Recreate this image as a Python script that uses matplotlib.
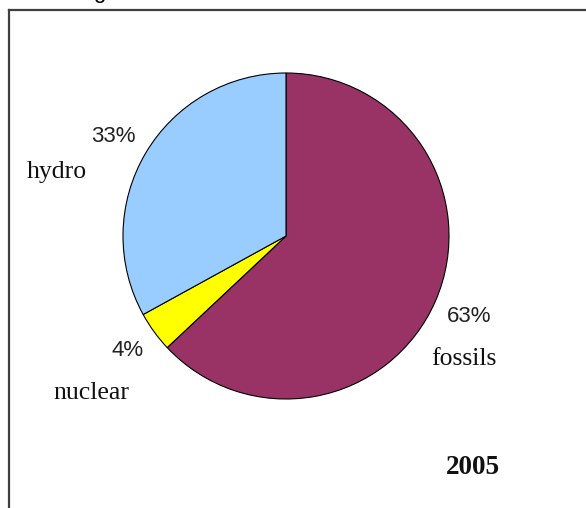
import matplotlib
matplotlib.use("Agg")
import matplotlib.pyplot as plt
from matplotlib.lines import Line2D

# data
sources = ["fossils", "nuclear", "hydro"]
shares = [63, 4, 33]
colors = ["#993366", "#FFFF00", "#99CCFF"]
year = "2005"

W, H = 586, 508
fig = plt.figure(figsize=(W / 100, H / 100), dpi=100)
fig.patch.set_facecolor("white")

# pie centred at (286, 236) px with radius 163 px
cx, cy, r = 286, 236, 163
ax = fig.add_axes([(cx - r) / W, (H - cy - r) / H, 2 * r / W, 2 * r / H])
ax.pie(shares, colors=colors, startangle=90, counterclock=False,
       wedgeprops=dict(edgecolor="black", linewidth=0.8))
ax.set_xlim(-1, 1)
ax.set_ylim(-1, 1)
ax.set_aspect("equal")
ax.axis("off")

def px(x, y):
    return x / W, 1 - y / H

# percentage + name labels (pixel centres)
pct_pos = {"fossils": (469, 316), "nuclear": (128, 351), "hydro": (113, 137)}
name_pos = {"fossils": (464, 359), "nuclear": (91, 393), "hydro": (57, 172)}
for name, val in zip(sources, shares):
    fig.text(*px(*pct_pos[name]), f"{val}%", ha="center", va="center",
             fontsize=16, family="Liberation Sans", color="#222222")
    fig.text(*px(*name_pos[name]), name, ha="center", va="center",
             fontsize=18.5, family="Liberation Serif", color="#111111")

fig.text(*px(473, 467), year, ha="center", va="center", fontsize=19.5,
         family="Liberation Serif", fontweight="bold", color="#111111")

# frame: only the left and top edges are visible in the crop
fig.add_artist(Line2D([9 / W, 9 / W], [0, 1 - 10 / H], color="#404040",
                      linewidth=1.6, transform=fig.transFigure))
fig.add_artist(Line2D([9 / W, 1], [1 - 10 / H, 1 - 10 / H], color="#404040",
                      linewidth=1.6, transform=fig.transFigure))

# cut-off title above the frame, only the descender of a "g" shows
fig.text(99 / W, 1 + 2 / H, "g", ha="center", va="baseline", fontsize=16,
         family="Liberation Sans", color="black")

fig.savefig("out.png", dpi=100)
